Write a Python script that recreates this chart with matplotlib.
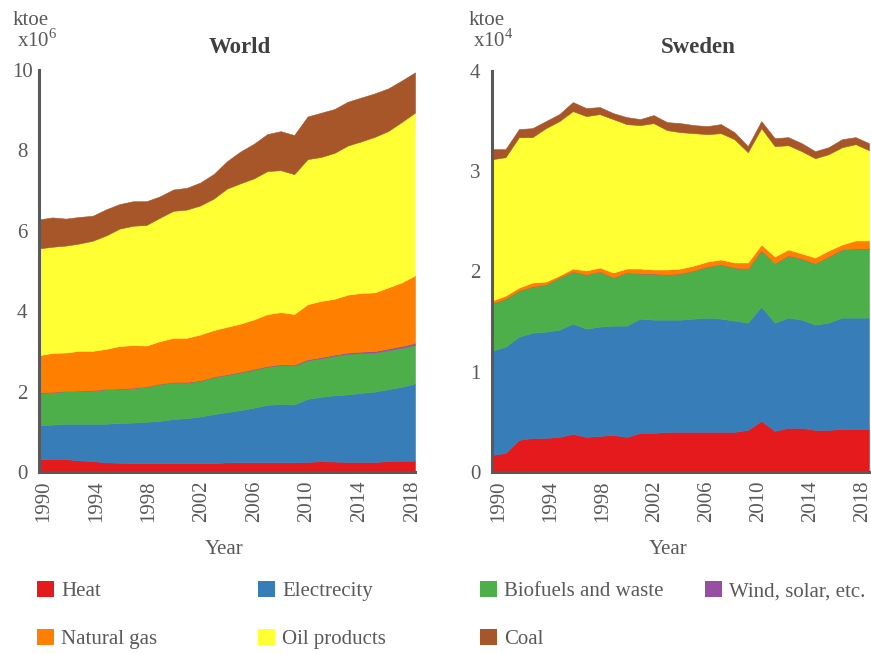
import matplotlib
matplotlib.use("Agg")
import matplotlib.pyplot as plt
from matplotlib.patches import Patch

plt.rcParams['font.family'] = ['Liberation Serif', 'DejaVu Serif']
plt.rcParams['mathtext.fontset'] = 'custom'
plt.rcParams['mathtext.rm'] = 'Liberation Serif'

years = list(range(1990, 2019))
tick_years = [1990, 1994, 1998, 2002, 2006, 2010, 2014, 2018]

series_names = ["Heat", "Electrecity", "Biofuels and waste", "Wind, solar, etc.",
                "Natural gas", "Oil products", "Coal"]
colors = ["#E41A1C", "#377EB8", "#4DAF4A", "#984EA3", "#FF7F00", "#FFFF33", "#A65628"]

# World, ktoe x10^6
world_heat = [0.32, 0.32, 0.32, 0.29, 0.27, 0.24, 0.23, 0.22, 0.22, 0.22, 0.22, 0.22, 0.22, 0.22,
              0.24, 0.24, 0.24, 0.24, 0.24, 0.24, 0.25, 0.27, 0.26, 0.25, 0.25, 0.25, 0.27, 0.28, 0.28]
world_elec = [0.84, 0.86, 0.88, 0.91, 0.93, 0.96, 0.99, 1.01, 1.03, 1.05, 1.10, 1.12, 1.16, 1.22,
              1.25, 1.30, 1.36, 1.43, 1.45, 1.44, 1.57, 1.60, 1.65, 1.68, 1.72, 1.75, 1.79, 1.84, 1.92]
world_bio = [0.81, 0.81, 0.81, 0.82, 0.83, 0.86, 0.85, 0.86, 0.87, 0.92, 0.91, 0.89, 0.89, 0.92,
             0.93, 0.94, 0.95, 0.95, 0.97, 0.97, 0.96, 0.96, 0.98, 1.01, 0.99, 0.97, 0.97, 0.97, 0.96]
world_wind = [0.003, 0.003, 0.003, 0.004, 0.004, 0.004, 0.005, 0.005, 0.006, 0.006, 0.007, 0.008,
              0.009, 0.010, 0.011, 0.012, 0.014, 0.016, 0.018, 0.020, 0.023, 0.026, 0.029, 0.032,
              0.035, 0.038, 0.041, 0.045, 0.050]
world_gas = [0.93, 0.97, 0.96, 0.99, 0.98, 1.00, 1.06, 1.06, 1.02, 1.06, 1.10, 1.10, 1.14, 1.16,
             1.18, 1.20, 1.23, 1.29, 1.30, 1.26, 1.37, 1.40, 1.39, 1.44, 1.46, 1.46, 1.52, 1.58, 1.68]
world_oil = [2.66, 2.64, 2.66, 2.67, 2.74, 2.82, 2.92, 2.97, 3.00, 3.07, 3.16, 3.19, 3.21, 3.27,
             3.44, 3.49, 3.51, 3.56, 3.53, 3.48, 3.61, 3.58, 3.63, 3.71, 3.77, 3.87, 3.89, 3.99, 4.05]
world_coal = [0.72, 0.73, 0.67, 0.66, 0.62, 0.65, 0.61, 0.61, 0.59, 0.53, 0.53, 0.54, 0.57, 0.61,
              0.68, 0.79, 0.86, 0.92, 0.97, 0.97, 1.06, 1.10, 1.09, 1.09, 1.09, 1.08, 1.06, 1.03, 1.00]

# Sweden, ktoe x10^4
swe_heat = [0.17, 0.19, 0.32, 0.34, 0.34, 0.35, 0.38, 0.35, 0.36, 0.37, 0.35, 0.39, 0.39, 0.40,
            0.40, 0.40, 0.40, 0.40, 0.40, 0.42, 0.51, 0.41, 0.44, 0.44, 0.42, 0.42, 0.43, 0.43, 0.43]
swe_elec = [1.04, 1.06, 1.03, 1.05, 1.06, 1.07, 1.10, 1.08, 1.09, 1.09, 1.11, 1.14, 1.13, 1.12,
            1.12, 1.13, 1.14, 1.13, 1.11, 1.07, 1.14, 1.08, 1.10, 1.08, 1.05, 1.07, 1.11, 1.11, 1.11]
swe_bio = [0.47, 0.48, 0.46, 0.46, 0.47, 0.52, 0.52, 0.54, 0.55, 0.48, 0.53, 0.45, 0.46, 0.45,
           0.46, 0.48, 0.51, 0.54, 0.53, 0.54, 0.56, 0.59, 0.62, 0.61, 0.61, 0.66, 0.68, 0.69, 0.69]
swe_wind = [0.0, 0.0, 0.0, 0.0, 0.0, 0.0, 0.0, 0.0, 0.0, 0.0, 0.0, 0.0, 0.0, 0.0,
            0.0, 0.0, 0.0, 0.0, 0.0, 0.0, 0.0, 0.0, 0.0, 0.0, 0.0, 0.0, 0.0, 0.0, 0.0]
swe_gas = [0.03, 0.03, 0.03, 0.04, 0.03, 0.02, 0.03, 0.04, 0.04, 0.05, 0.04, 0.05, 0.04, 0.05,
           0.05, 0.05, 0.05, 0.05, 0.05, 0.06, 0.06, 0.07, 0.06, 0.05, 0.06, 0.06, 0.05, 0.08, 0.08]
swe_oil = [1.41, 1.38, 1.50, 1.45, 1.53, 1.54, 1.57, 1.54, 1.53, 1.53, 1.44, 1.43, 1.46, 1.39,
           1.36, 1.32, 1.27, 1.26, 1.23, 1.10, 1.16, 1.10, 1.04, 1.02, 0.99, 0.96, 0.97, 0.96, 0.90]
swe_coal = [0.10, 0.08, 0.08, 0.09, 0.07, 0.07, 0.09, 0.08, 0.07, 0.06, 0.07, 0.06, 0.08, 0.08,
            0.09, 0.08, 0.08, 0.09, 0.07, 0.06, 0.07, 0.08, 0.08, 0.08, 0.07, 0.07, 0.08, 0.07, 0.07]

TEXT = "#595959"
SPINE = "#595959"
FS = 15

W, H = 871, 654
fig = plt.figure(figsize=(W / 100, H / 100), dpi=100)


def px_axes(l, r, t, b):
    return fig.add_axes([l / W, 1 - b / H, (r - l) / W, (b - t) / H])


def draw(ax, data, ymax, yticks, title, title_x, unit_x, exp, lab_start, lab_end):
    polys = ax.stackplot(years, *data, colors=colors)
    for p, c in zip(polys, colors):
        p.set_edgecolor(c)
        p.set_linewidth(0.4)
    ax.set_xlim(1990, 2018)
    ax.set_ylim(0, ymax)
    # category labels sit on a slightly narrower band than the data, as in the source
    n = len(tick_years) - 1
    pos = [lab_start + (lab_end - lab_start) * i / n for i in range(len(tick_years))]
    ax.set_xticks(pos)
    ax.set_xticklabels([str(y) for y in tick_years], rotation=90, fontsize=FS, color=TEXT)
    ax.set_yticks(yticks)
    ax.set_yticklabels([str(v) for v in yticks], fontsize=FS, color=TEXT, ha='center')
    ax.tick_params(axis='both', length=0)
    ax.tick_params(axis='x', pad=6)
    ax.tick_params(axis='y', pad=12)
    for s in ['top', 'right']:
        ax.spines[s].set_visible(False)
    for s in ['left', 'bottom']:
        ax.spines[s].set_color(SPINE)
        ax.spines[s].set_linewidth(2.2)
        ax.spines[s].set_zorder(5)
    fig.text(title_x / W, 1 - 53 / H, title, fontsize=16.5, fontweight='bold',
             color="#404040", ha='center', va='baseline')
    fig.text(unit_x / W, 1 - 25 / H, "ktoe", fontsize=FS, color=TEXT, ha='left', va='baseline')
    fig.text((unit_x + 4) / W, 1 - 47 / H, r"x10$^{\mathregular{%d}}$" % exp, fontsize=FS,
             color=TEXT, ha='left', va='baseline')


ax1 = px_axes(39, 415, 70, 472)
draw(ax1, [world_heat, world_elec, world_bio, world_wind, world_gas, world_oil, world_coal],
     10, [0, 2, 4, 6, 8, 10], "World", 240, 13, 6, 1990.35, 2017.8)
fig.text(224 / W, 1 - 549 / H, "Year", fontsize=FS, color=TEXT, ha='center', va='center')

ax2 = px_axes(492, 869, 71, 472)
draw(ax2, [swe_heat, swe_elec, swe_bio, swe_wind, swe_gas, swe_oil, swe_coal],
     4, [0, 1, 2, 3, 4], "Sweden", 698, 469, 4, 1990.5, 2017.5)
fig.text(668 / W, 1 - 549 / H, "Year", fontsize=FS, color=TEXT, ha='center', va='center')

# legend, laid out row-wise in four columns
leg_pos = [(37, 591), (258, 591), (480, 591), (705, 591),
           (37, 639), (258, 639), (480, 639)]
for name, col, (x, y) in zip(series_names, colors, leg_pos):
    fig.legend(handles=[Patch(facecolor=col, edgecolor='none', label=name)],
               loc='center left', bbox_to_anchor=(x / W, 1 - y / H),
               frameon=False, fontsize=FS, labelcolor=TEXT,
               handlelength=0.8, handleheight=0.8, handletextpad=0.35,
               borderpad=0, borderaxespad=0)

fig.savefig("out.png", dpi=100)
